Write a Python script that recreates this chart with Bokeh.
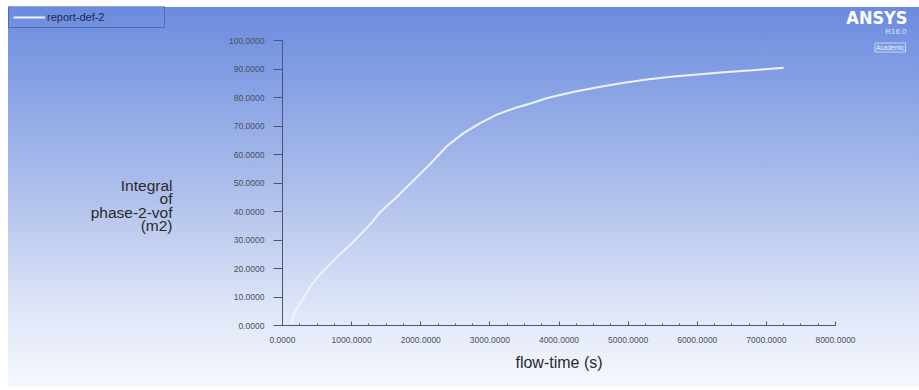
from bokeh.plotting import figure
from bokeh.models import (Range1d, PrintfTickFormatter, SingleIntervalTicker, Legend,
                          LegendItem, Label)
from bokeh.embed import file_html
from bokeh.resources import INLINE

# ---- data ----
flow_time = [120, 190, 310, 410, 550, 790, 1030, 1270, 1420, 1650, 1900, 2150, 2380,
             2620, 2860, 3100, 3350, 3600, 3830, 4000, 4220, 4600, 4940, 5300, 5660,
             6000, 6380, 6800, 7250]
integral = [0.5, 5.3, 9.9, 14.0, 18.0, 24.0, 29.5, 35.5, 40.0, 45.0, 51.0, 57.0, 63.0,
            67.5, 71.0, 74.0, 76.2, 78.0, 79.8, 80.8, 82.0, 83.8, 85.2, 86.4, 87.4,
            88.1, 88.9, 89.6, 90.4]
x_lo, x_hi = 0, 8000
y_lo, y_hi = 0, 100
series_name = "report-def-2"
x_title = "flow-time (s)"
y_title_lines = ["Integral", "of", "phase-2-vof", "(m2)"]

W, H = 919, 390
FL, FT, FR, FB = 282, 40, 835, 325   # where the axes sit, in page pixels
kx = (FR - FL) / (x_hi - x_lo)
ky = (FB - FT) / (y_hi - y_lo)
x_range = Range1d(x_lo - FL / kx, x_hi + (W - FR) / kx)
y_range = Range1d(y_lo - (H - FB) / ky, y_hi + FT / ky)

p = figure(width=W, height=H, output_backend="svg", toolbar_location=None,
           x_range=x_range, y_range=y_range,
           min_border=0, min_border_left=0, min_border_right=0,
           min_border_top=0, min_border_bottom=0)
p.background_fill_alpha = 0
p.border_fill_alpha = 0
p.outline_line_color = None
p.grid.visible = False
p.styles = {
    "background": "linear-gradient(to bottom, #6a8bdf 0%, #a9bbea 45%, #dfe6f7 80%, #f5f8fe 100%) 8px 7px / 911px 380px no-repeat, #ffffff"
}

def sy(y):  # page y (from top) -> screen y from bottom
    return H - y

axis_color = "#4d5573"
tick_font = "Liberation Sans"
tick_color = "#4a5060"

# x axis
xa = p.xaxis[0]
xa.fixed_location = y_lo
xa.bounds = (x_lo, x_hi)
xa.ticker = SingleIntervalTicker(interval=1000, num_minor_ticks=4)
xa.formatter = PrintfTickFormatter(format="%.4f")
xa.axis_line_color = axis_color
xa.major_tick_line_color = axis_color
xa.minor_tick_line_color = axis_color
xa.major_tick_in = 4
xa.major_tick_out = 0
xa.minor_tick_in = 2
xa.minor_tick_out = 0
xa.major_label_standoff = 11
xa.major_label_text_font = tick_font
xa.major_label_text_font_size = "8.5px"
xa.major_label_text_color = tick_color
xa.axis_label = x_title
xa.axis_label_text_font = tick_font
xa.axis_label_text_font_size = "16px"
xa.axis_label_text_font_style = "normal"
xa.axis_label_text_color = "#2a2a2a"
xa.axis_label_standoff = 8

# y axis
ya = p.yaxis[0]
ya.fixed_location = x_lo
ya.bounds = (y_lo, y_hi)
ya.ticker = SingleIntervalTicker(interval=10, num_minor_ticks=0)
ya.formatter = PrintfTickFormatter(format="%.4f")
ya.axis_line_color = axis_color
ya.major_tick_line_color = axis_color
ya.minor_tick_line_color = None
ya.major_tick_in = 0
ya.major_tick_out = 9
ya.major_label_standoff = 9
ya.major_label_text_font = tick_font
ya.major_label_text_font_size = "8.5px"
ya.major_label_text_color = tick_color

r = p.line(flow_time, integral, line_color="#eef2fb", line_width=2)

# y title as right-aligned stacked lines (left of tick labels)
for i, t in enumerate(y_title_lines):
    p.add_layout(Label(x=172, y=sy(185 + i * 13.3), x_units="screen", y_units="screen",
                       text=t, text_align="right", text_baseline="middle",
                       text_font=tick_font, text_font_size="15.5px",
                       text_color="#2a2a2a"))

legend = Legend(items=[LegendItem(label=series_name, renderers=[r])],
                location=(8, sy(28)), orientation="vertical",
                glyph_width=32, glyph_height=10, label_height=12,
                padding=4, margin=0, spacing=0, label_standoff=2,
                label_text_font=tick_font, label_text_font_size="11px",
                label_text_color="#1e2a4a",
                background_fill_alpha=0, border_line_color="#3a4a7a",
                border_line_width=1)
legend.label_width = 113
p.add_layout(legend, "center")

# logo text
p.add_layout(Label(x=907, y=sy(17), x_units="screen", y_units="screen", text="ANSYS",
                   text_align="right", text_baseline="middle", text_font="DejaVu Sans Condensed",
                   text_font_style="bold", text_font_size="18px", text_color="#ffffff"))
p.add_layout(Label(x=906, y=sy(31), x_units="screen", y_units="screen", text="R16.0",
                   text_align="right", text_baseline="middle", text_font=tick_font,
                   text_font_size="8px", text_color="#dfe6fa"))
p.add_layout(Label(x=905, y=sy(47), x_units="screen", y_units="screen", text="Academic",
                   text_align="right", text_baseline="middle", text_font=tick_font,
                   text_font_size="6.5px", text_color="#eef2ff",
                   border_line_color="#e8eefc", border_line_alpha=0.7, padding=1))

open("out.html", "w").write(file_html(p, INLINE))
